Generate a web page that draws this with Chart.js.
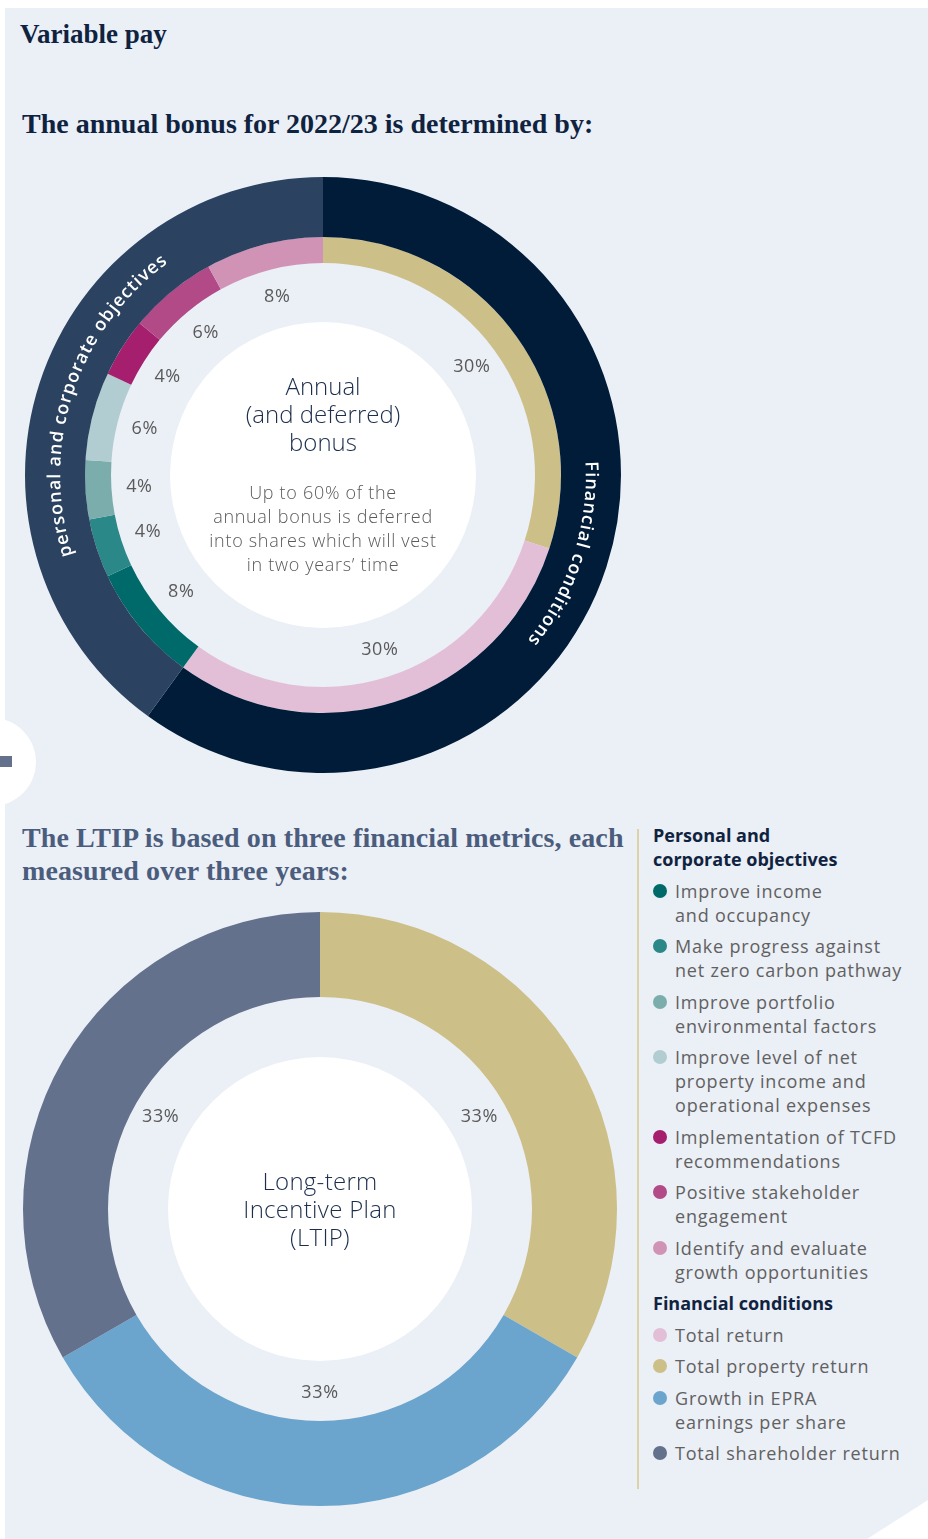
<!DOCTYPE html>
<html>
<head>
<meta charset="utf-8">
<script src="https://cdn.jsdelivr.net/npm/chart.js@4.4.0/dist/chart.umd.min.js"></script>
<style>
  body { margin: 0; width: 928px; height: 1539px; background: #fff; position: relative; overflow: hidden; }
  .panel { position: absolute; left: 5px; top: 8px; right: 0; bottom: 0; background: #ebeff6;
    clip-path: polygon(0 0, 100% 0, 100% calc(100% - 39px), calc(100% - 61px) 100%, 0 100%); }
  .serif { position: absolute; font-family: "Liberation Serif", serif; font-weight: bold; margin: 0; }
  #t1 { left: 20px; top: 19px; font-size: 27px; line-height: 30px; color: #0f2340; }
  #t2 { left: 22px; top: 107px; font-size: 28px; line-height: 33px; color: #0f2340; }
  #t3 { left: 22px; top: 821px; font-size: 28px; line-height: 33px; color: #4b5d7d; letter-spacing: 0.1px; }
  .notch { position: absolute; left: -52px; top: 718px; width: 88px; height: 88px; border-radius: 50%; background: #fff; }
  .notchbar { position: absolute; left: 0; top: 756px; width: 12px; height: 11px; background: #64718c; }
  canvas { position: absolute; }
  #bonusChart { left: 0; top: 160px; }
  #ltipChart { left: 0; top: 900px; }
  .vline { position: absolute; left: 637px; top: 829px; width: 1.5px; height: 660px; background: #ddd3a8; }
  #legend { position: absolute; left: 653px; top: 823px; width: 275px; font-family: "Open Sans", sans-serif; font-size: 18px; line-height: 24px; }
  .lh { color: #0f2340; font-weight: 700; margin-top: 7.5px; }
  .lh:first-child { margin-top: 0; }
  .li { position: relative; padding-left: 22px; color: #616161; margin-top: 7.5px; white-space: pre; letter-spacing: 0.8px; }
  .li i { position: absolute; left: 0; top: 5px; width: 14px; height: 14px; border-radius: 50%; }
</style>
</head>
<body>
<div class="panel"></div>
<div class="notch"></div>
<div class="notchbar"></div>
<h1 class="serif" id="t1">Variable pay</h1>
<h2 class="serif" id="t2">The annual bonus for 2022/23 is determined by:</h2>
<h2 class="serif" id="t3">The LTIP is based on three financial metrics, each<br>measured over three years:</h2>
<canvas id="bonusChart" width="646" height="630" style="width:646px;height:630px"></canvas>
<canvas id="ltipChart" width="640" height="618" style="width:640px;height:618px"></canvas>
<div class="vline"></div>
<div id="legend"></div>

<script>
// outer ring of the bonus chart
const bonusGroups = ['Financial conditions', 'Personal and corporate objectives'];
const bonusGroupRingText = ['Financial conditions', 'personal and corporate objectives'];
const bonusGroupValues = [60, 40];
const bonusGroupColors = ['#011c38', '#2b4361'];

// inner ring of the bonus chart (clockwise from 12 o'clock)
const bonusMeasures = [
  'Total property return',
  'Total return',
  'Improve income\nand occupancy',
  'Make progress against\nnet zero carbon pathway',
  'Improve portfolio\nenvironmental factors',
  'Improve level of net\nproperty income and\noperational expenses',
  'Implementation of TCFD\nrecommendations',
  'Positive stakeholder\nengagement',
  'Identify and evaluate\ngrowth opportunities'
];
const bonusValues = [30, 30, 8, 4, 4, 6, 4, 6, 8];
const bonusColors = ['#cdbf88', '#e2bfd7', '#006a6a', '#2a8888', '#7badad', '#b2cdd1', '#a51f6e', '#b24a87', '#d093b6'];

// LTIP metrics
const ltipMetrics = ['Total property return', 'Growth in EPRA\nearnings per share', 'Total shareholder return'];
const ltipValues = [33, 33, 33];
const ltipColors = ['#cdbf88', '#6ba4cc', '#64718c'];

// legend order as in the report
const legendPersonal = [2, 3, 4, 5, 6, 7, 8];
const legendFinancial = [
  { label: bonusMeasures[1], color: bonusColors[1] },
  { label: ltipMetrics[0], color: ltipColors[0] },
  { label: ltipMetrics[1], color: ltipColors[1] },
  { label: ltipMetrics[2], color: ltipColors[2] }
];

const SANS = '"Open Sans", sans-serif';

function buildLegend() {
  const el = document.getElementById('legend');
  let html = '<div class="lh">Personal and<br>corporate objectives</div>';
  legendPersonal.forEach(i => {
    html += `<div class="li"><i style="background:${bonusColors[i]}"></i>${bonusMeasures[i]}</div>`;
  });
  html += `<div class="lh">${bonusGroups[0]}</div>`;
  legendFinancial.forEach(d => {
    html += `<div class="li"><i style="background:${d.color}"></i>${d.label}</div>`;
  });
  el.innerHTML = html;
}
buildLegend();

// text written along an arc, letters standing outward, reading clockwise
function arcText(ctx, text, cx, cy, r, midAngle, spacing) {
  const widths = [...text].map(ch => ctx.measureText(ch).width);
  const total = widths.reduce((a, b) => a + b, 0) + spacing * (text.length - 1);
  let a = midAngle - total / 2 / r;
  [...text].forEach((ch, i) => {
    const half = widths[i] / 2 / r;
    a += half;
    ctx.save();
    ctx.translate(cx + r * Math.cos(a), cy + r * Math.sin(a));
    ctx.rotate(a + Math.PI / 2);
    ctx.fillText(ch, 0, 0);
    ctx.restore();
    a += half + spacing / r;
  });
}

function centreText(ctx, x, y, lines) {
  lines.forEach(l => {
    ctx.font = l.font;
    ctx.fillStyle = l.color;
    ctx.letterSpacing = l.ls || '0px';
    ctx.fillText(l.text, x, y + l.dy);
  });
  ctx.letterSpacing = '0px';
}

const bonusDecor = {
  id: 'bonusDecor',
  afterDraw(chart) {
    const ctx = chart.ctx;
    const outer = chart.getDatasetMeta(0).data;
    const inner = chart.getDatasetMeta(1).data;
    const cx = outer[0].x, cy = outer[0].y;
    ctx.save();
    ctx.fillStyle = '#ffffff';
    ctx.beginPath();
    ctx.arc(cx, cy, 153, 0, Math.PI * 2);
    ctx.fill();
    ctx.textAlign = 'center';
    ctx.textBaseline = 'middle';

    // ring captions
    ctx.font = '600 18px ' + SANS;
    ctx.fillStyle = '#ffffff';
    outer.forEach((arc, i) => {
      const mid = (arc.startAngle + arc.endAngle) / 2;
      const r = (arc.innerRadius + arc.outerRadius) / 2;
      arcText(ctx, bonusGroupRingText[i], arc.x, arc.y, r, mid, 1.2);
    });

    // percentages inside the inner ring
    ctx.font = '18px ' + SANS;
    ctx.fillStyle = '#5a5a5a';
    ctx.letterSpacing = '0.6px';
    inner.forEach((arc, i) => {
      const mid = (arc.startAngle + arc.endAngle) / 2;
      const r = 184;
      ctx.fillText(bonusValues[i] + '%', arc.x + r * Math.cos(mid), arc.y + r * Math.sin(mid));
    });

    centreText(ctx, cx, cy, [
      { text: 'Annual', dy: -87, font: '300 24px ' + SANS, color: '#1c2e4c' },
      { text: '(and deferred)', dy: -59, font: '300 24px ' + SANS, color: '#1c2e4c' },
      { text: 'bonus', dy: -31, font: '300 24px ' + SANS, color: '#1c2e4c' },
      { text: 'Up to 60% of the', dy: 19, font: '300 18px ' + SANS, color: '#5a5a5a', ls: '0.7px' },
      { text: 'annual bonus is deferred', dy: 43, font: '300 18px ' + SANS, color: '#5a5a5a', ls: '0.7px' },
      { text: 'into shares which will vest', dy: 67, font: '300 18px ' + SANS, color: '#5a5a5a', ls: '0.7px' },
      { text: 'in two years\u2019 time', dy: 91, font: '300 18px ' + SANS, color: '#5a5a5a', ls: '0.7px' }
    ]);
    ctx.restore();
  }
};

const ltipDecor = {
  id: 'ltipDecor',
  afterDraw(chart) {
    const ctx = chart.ctx;
    const arcs = chart.getDatasetMeta(0).data;
    const cx = arcs[0].x, cy = arcs[0].y;
    ctx.save();
    ctx.fillStyle = '#ffffff';
    ctx.beginPath();
    ctx.arc(cx, cy, 152, 0, Math.PI * 2);
    ctx.fill();
    ctx.textAlign = 'center';
    ctx.textBaseline = 'middle';
    ctx.font = '18px ' + SANS;
    ctx.fillStyle = '#5a5a5a';
    ctx.letterSpacing = '0.6px';
    arcs.forEach((arc, i) => {
      const mid = (arc.startAngle + arc.endAngle) / 2;
      const r = 184;
      ctx.fillText(ltipValues[i] + '%', arc.x + r * Math.cos(mid), arc.y + r * Math.sin(mid));
    });
    centreText(ctx, cx, cy, [
      { text: 'Long-term', dy: -26, font: '300 24px ' + SANS, color: '#1c2e4c', ls: '0.3px' },
      { text: 'Incentive Plan', dy: 2, font: '300 24px ' + SANS, color: '#1c2e4c', ls: '0.3px' },
      { text: '(LTIP)', dy: 30, font: '300 24px ' + SANS, color: '#1c2e4c', ls: '0.3px' }
    ]);
    ctx.restore();
  }
};

const baseOptions = {
  responsive: false,
  animation: false,
  layout: { padding: 0 },
  plugins: { legend: { display: false }, tooltip: { enabled: false } }
};

// cutout is given relative to the outer radius so the hole is exactly 212px
new Chart(document.getElementById('bonusChart').getContext('2d'), {
  type: 'doughnut',
  plugins: [bonusDecor],
  data: {
    labels: bonusMeasures,
    datasets: [
      { data: bonusGroupValues, backgroundColor: bonusGroupColors, borderWidth: 0, weight: 60 },
      { data: bonusValues, backgroundColor: bonusColors, borderWidth: 0, weight: 26 }
    ]
  },
  options: Object.assign({}, baseOptions, { radius: 298, cutout: (212 / 298 * 100) + '%' })
});

new Chart(document.getElementById('ltipChart').getContext('2d'), {
  type: 'doughnut',
  plugins: [ltipDecor],
  data: {
    labels: ltipMetrics,
    datasets: [{ data: ltipValues, backgroundColor: ltipColors, borderWidth: 0 }]
  },
  options: Object.assign({}, baseOptions, { radius: 297, cutout: (212 / 297 * 100) + '%' })
});
</script>
</body>
</html>
